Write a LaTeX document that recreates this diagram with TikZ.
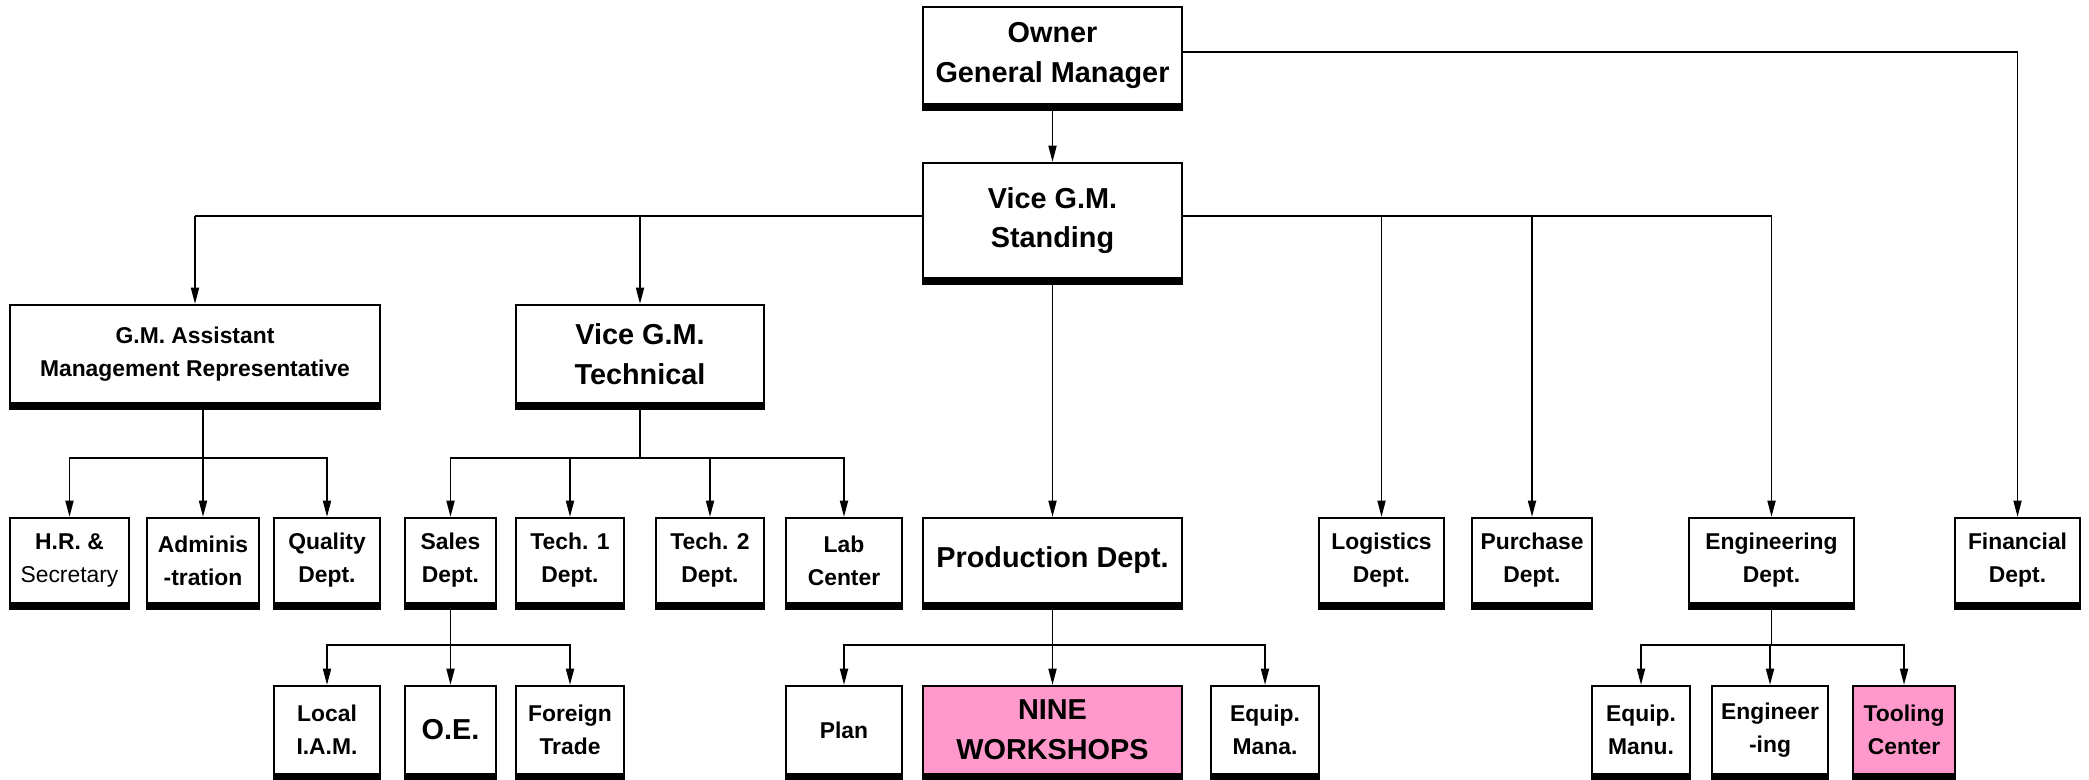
\documentclass[tikz,border=0pt]{standalone}
\usepackage{fontspec}
\setmainfont{Liberation Sans}
\usetikzlibrary{arrows.meta}
\definecolor{wspink}{HTML}{FF99CC}
\begin{document}
\begin{tikzpicture}[x=0.01cm,y=-0.01cm,
	box/.style={draw,line width=0.65pt,inner sep=0pt,align=center,
		append after command={([yshift=-0.8pt]\tikzlastnode.south west) edge[line width=1.6pt] ([yshift=-0.8pt]\tikzlastnode.south east)}},
	big/.style={box,font=\fontsize{8.2}{11.3}\selectfont\bfseries},
	small/.style={box,font=\fontsize{6.5}{9.4}\selectfont\bfseries},
	row2/.style={minimum height=0.98cm},
	row3/.style={minimum height=0.85cm},
	row4/.style={minimum height=0.88cm},
	bar/.style={line width=0.8pt},
	link/.style={line width=0.45pt,-{Triangle[length=4.6pt,width=2.3pt]}}]
\useasboundingbox (0,0) rectangle (2089,780);
\node[big,minimum width=2.59cm,minimum height=0.97cm] (own) at (1052.5,55.5) {Owner\\General Manager};
\node[big,minimum width=2.59cm,minimum height=1.15cm] (vgs) at (1052.5,220.5) {Vice G.M.\\Standing};
\node[small,row2,minimum width=3.7cm] (gma) at (195,354) {G.M. Assistant\\Management Representative};
\node[big,row2,minimum width=2.48cm] (vgt) at (640,354) {Vice G.M.\\Technical};
\node[small,row3,minimum width=1.19cm] (hr) at (69.5,560.5) {H.R. \&\\{\mdseries Secretary}};
\node[small,row3,minimum width=1.12cm] (adm) at (203,560.5) {Adminis\\-tration};
\node[small,row3,minimum width=1.06cm] (qual) at (327,560.5) {Quality\\Dept.};
\node[small,row3,minimum width=0.91cm] (sales) at (450.5,560.5) {Sales\\Dept.};
\node[small,row3,minimum width=1.08cm] (tech1) at (570,560.5) {Tech. 1\\Dept.};
\node[small,row3,minimum width=1.08cm] (tech2) at (710,560.5) {Tech. 2\\Dept.};
\node[small,row3,minimum width=1.16cm] (lab) at (844,560.5) {Lab\\Center};
\node[big,row3,minimum width=2.59cm] (prod) at (1052.5,560.5) {Production Dept.};
\node[small,row3,minimum width=1.25cm] (log) at (1381.5,560.5) {Logistics\\Dept.};
\node[small,row3,minimum width=1.2cm] (pur) at (1532,560.5) {Purchase\\Dept.};
\node[small,row3,minimum width=1.65cm] (eng) at (1771.5,560.5) {Engineering\\Dept.};
\node[small,row3,minimum width=1.25cm] (fin) at (2017.5,560.5) {Financial\\Dept.};
\node[small,row4,minimum width=1.06cm] (local) at (327,730) {Local\\I.A.M.};
\node[big,row4,minimum width=0.91cm] (oe) at (450.5,730) {O.E.};
\node[small,row4,minimum width=1.08cm] (frn) at (570,730) {Foreign\\Trade};
\node[small,row4,minimum width=1.16cm] (plan) at (844,730) {Plan};
\node[big,row4,minimum width=2.59cm,fill=wspink] (nine) at (1052.5,730) {NINE\\WORKSHOPS};
\node[small,row4,minimum width=1.08cm] (eqma) at (1265,730) {Equip.\\Mana.};
\node[small,row4,minimum width=0.98cm] (eqmu) at (1641,730) {Equip.\\Manu.};
\node[small,row4,minimum width=1.16cm] (engg) at (1770,730) {Engineer\\-ing};
\node[small,row4,minimum width=1.02cm,fill=wspink] (tool) at (1904,730) {Tooling\\Center};
\draw[link] (own) -- (vgs);
\draw[link,line width=0.4pt] ([yshift=1pt]own.east) -| (fin.north);
\draw[bar] ([yshift=1.3pt]vgs.west) -- ([yshift=1.3pt]vgs.west -| gma.north);
\foreach \n in {gma,vgt} \draw[link] ([yshift=1.3pt]vgs.west -| \n.north) -- (\n.north);
\draw[bar] ([yshift=1.3pt]vgs.east) -- ([yshift=1.3pt]vgs.east -| eng.north);
\foreach \n in {log,pur,eng} \draw[link] ([yshift=1.3pt]vgs.east -| \n.north) -- (\n.north);
\draw[link] (vgs) -- (prod);
\draw (adm.north |- gma.south) -- ++(0,54) coordinate (ga);
\foreach \n in {hr,adm,qual} \draw[link] (ga) -| (\n.north);
\draw (vgt.south) -- ++(0,54) coordinate (vt);
\foreach \n in {sales,tech1,tech2,lab} \draw[link] (vt) -| (\n.north);
\draw (sales.south) -- ++(0,41) coordinate (sd);
\foreach \n in {local,oe,frn} \draw[link] (sd) -| (\n.north);
\draw (prod.south) -- ++(0,41) coordinate (pd);
\foreach \n in {plan,nine,eqma} \draw[link] (pd) -| (\n.north);
\draw (eng.south) -- ++(0,41) coordinate (ed);
\foreach \n in {eqmu,engg,tool} \draw[link] (ed) -| (\n.north);
\end{tikzpicture}
\end{document}
